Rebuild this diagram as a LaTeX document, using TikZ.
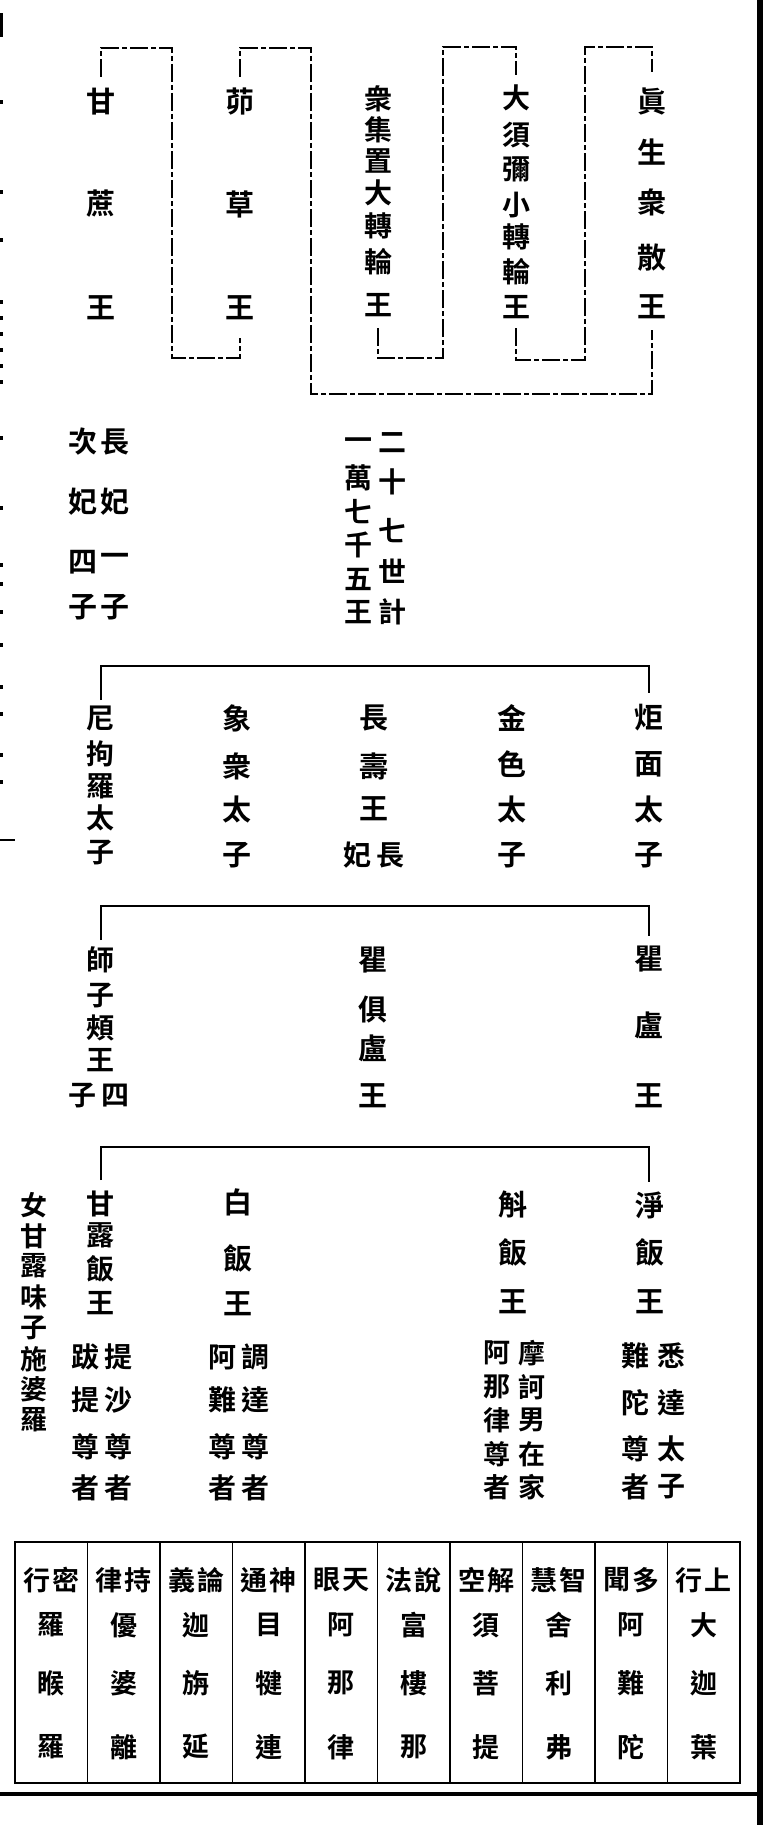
\documentclass[tikz,border=0pt]{standalone}
\usepackage{fontspec}
\newfontfamily\cjk{Noto Sans CJK TC Bold}
\newcommand\vcol[4][ch]{\foreach \yy/\cc [count=\ii] in {#4}{\node[#1] (#2-\ii) at (#3,\yy) {\cc};}}
\begin{document}
\begin{tikzpicture}[x=1pt,y=-1pt,
  ch/.style={font=\cjk\fontsize{29}{29}\selectfont, inner sep=0pt},
  chm/.style={font=\cjk\fontsize{28}{28}\selectfont, inner sep=0pt},
  chs/.style={font=\cjk\fontsize{27}{27}\selectfont, inner sep=0pt},
  brk/.style={line width=1.5pt, dash pattern=on 18pt off 3pt on 5pt off 3pt},
  gen/.style={line width=1.6pt},
  tbl/.style={line width=1.4pt}]
\fill[white] (0,0) rectangle (780,1825);
\useasboundingbox (0,0) rectangle (780,1825);
% page edges
\fill (757,0) rectangle (763,1825);
\fill (0,1792) rectangle (757,1796);
\fill (0,13) rectangle (3,37);
\fill (0,839) rectangle (15,841);
\foreach \d in {100,190,238,300,316,332,348,364,380,436,506,563,582,610,643,685,712,753,780}
  \fill (0,\d) rectangle (3,\d+4);
% ---- top generation
\vcol{gz}{101}{102/甘,204/蔗,308/王}
\vcol{mc}{240}{102/茆,204/草,308/王}
\vcol[chm]{zj}{378}{99/衆,130/集,161/置,193/大,226/轉,262/輪,305/王}
\vcol[chm]{ds}{516}{98/大,135/須,169/彌,205/小,237/轉,272/輪,307/王}
\vcol{zs}{652}{101/眞,152/生,202/衆,258/散,307/王}
\coordinate (b1a) at (101,77); \coordinate (b1b) at (101,48);
\coordinate (b1c) at (172,48); \coordinate (b1d) at (172,358);
\coordinate (b1e) at (240,358); \coordinate (b1f) at (240,338);
\draw[brk] (b1a) -- (b1b) -- (b1c) -- (b1d) -- (b1e) -- (b1f);
\coordinate (b2a) at (240,77); \coordinate (b2b) at (240,48);
\coordinate (b2c) at (311,48); \coordinate (b2d) at (311,394);
\coordinate (b2e) at (652,394); \coordinate (b2f) at (652,330);
\draw[brk] (b2a) -- (b2b) -- (b2c) -- (b2d) -- (b2e) -- (b2f);
\coordinate (b3a) at (378,328); \coordinate (b3b) at (378,358);
\coordinate (b3c) at (443,358); \coordinate (b3d) at (443,47);
\coordinate (b3e) at (516,47); \coordinate (b3f) at (516,75);
\draw[brk] (b3a) -- (b3b) -- (b3c) -- (b3d) -- (b3e) -- (b3f);
\coordinate (b4a) at (516,328); \coordinate (b4b) at (516,360);
\coordinate (b4c) at (585,360); \coordinate (b4d) at (585,47);
\coordinate (b4e) at (652,47); \coordinate (b4f) at (652,72);
\draw[brk] (b4a) -- (b4b) -- (b4c) -- (b4d) -- (b4e) -- (b4f);
% ---- notes
\vcol{cfa}{115}{442/長,502/妃,560/一,607/子}
\vcol{cfb}{83}{442/次,502/妃,562/四,607/子}
\vcol[chm]{sj}{392}{443/二,482/十,531/七,571/世,612/計}
\vcol[chm]{wq}{358}{444/一,478/萬,512/七,545/千,579/五,612/王}
% ---- generation line 1
\coordinate (g1a) at (101,700); \coordinate (g1b) at (101,666);
\coordinate (g1c) at (649,666); \coordinate (g1d) at (649,693);
\draw[gen] (g1a) -- (g1b) -- (g1c) -- (g1d);
\vcol[chm]{nj}{100}{718/尼,754/拘,786/羅,818/太,853/子}
\vcol{xz}{237}{718/象,766/衆,809/太,855/子}
\vcol{cs}{374}{718/長,766/壽,809/王}
\node[chm] (csn1) at (390,855) {長};
\node[chm] (csn2) at (357,855) {妃};
\vcol{js}{512}{718/金,764/色,809/太,855/子}
\vcol{jm}{649}{718/炬,764/面,809/太,855/子}
% ---- generation line 2
\coordinate (g2a) at (101,940); \coordinate (g2b) at (101,906);
\coordinate (g2c) at (649,906); \coordinate (g2d) at (649,936);
\draw[gen] (g2a) -- (g2b) -- (g2c) -- (g2d);
\vcol[chm]{sz}{100}{960/師,996/子,1028/頰,1060/王}
\node[chm] (szn1) at (115,1096) {四};
\node[chm] (szn2) at (82,1096) {子};
\vcol{qjl}{373}{960/瞿,1010/俱,1048/盧,1096/王}
\vcol{ql}{649}{959/瞿,1025/盧,1096/王}
% ---- generation line 3
\coordinate (g3a) at (101,1180); \coordinate (g3b) at (101,1147);
\coordinate (g3c) at (649,1147); \coordinate (g3d) at (649,1182);
\draw[gen] (g3a) -- (g3b) -- (g3c) -- (g3d);
\vcol[chs]{nv}{34}{1205/女,1236/甘,1266/露,1297/味,1328/子,1359/施,1389/婆,1420/羅}
\vcol[chm]{gl}{100}{1204/甘,1235/露,1269/飯,1303/王}
\vcol{bf}{238}{1202/白,1258/飯,1304/王}
\vcol{hf}{513}{1204/斛,1252/飯,1302/王}
\vcol{jf}{650}{1205/淨,1252/飯,1302/王}
\vcol[chm]{n1}{118}{1357/提,1400/沙,1447/尊,1488/者}
\vcol[chm]{n2}{85}{1357/跋,1400/提,1447/尊,1488/者}
\vcol[chm]{n3}{255}{1357/調,1400/達,1447/尊,1488/者}
\vcol[chm]{n4}{222}{1357/阿,1400/難,1447/尊,1488/者}
\vcol[chs]{n5}{532}{1353/摩,1387/訶,1420/男,1454/在,1487/家}
\vcol[chs]{n6}{497}{1353/阿,1387/那,1420/律,1454/尊,1487/者}
\vcol[chm]{n7}{671}{1356/悉,1403/達,1449/太,1487/子}
\vcol[chm]{n8}{635}{1356/難,1403/陀,1449/尊,1487/者}
% ---- table of disciples
\draw[tbl] (15,1542) rectangle (740,1783);
\foreach \i in {1,...,9} \draw[tbl] (15+72.5*\i,1542) -- (15+72.5*\i,1783);
\foreach \i/\l/\r/\a/\b/\c in {0/行/密/羅/睺/羅,1/律/持/優/婆/離,2/義/論/迦/旃/延,3/通/神/目/犍/連,4/眼/天/阿/那/律,5/法/說/富/樓/那,6/空/解/須/菩/提,7/慧/智/舍/利/弗,8/聞/多/阿/難/陀,9/行/上/大/迦/葉}{
  \node[chs] (t\i l) at (51.25+72.5*\i-14.5,1580) {\l};
  \node[chs] (t\i r) at (51.25+72.5*\i+14.5,1580) {\r};
  \node[chs] (t\i a) at (51.25+72.5*\i,1625) {\a};
  \node[chs] (t\i b) at (51.25+72.5*\i,1683) {\b};
  \node[chs] (t\i c) at (51.25+72.5*\i,1747) {\c};
}
\end{tikzpicture}
\end{document}
